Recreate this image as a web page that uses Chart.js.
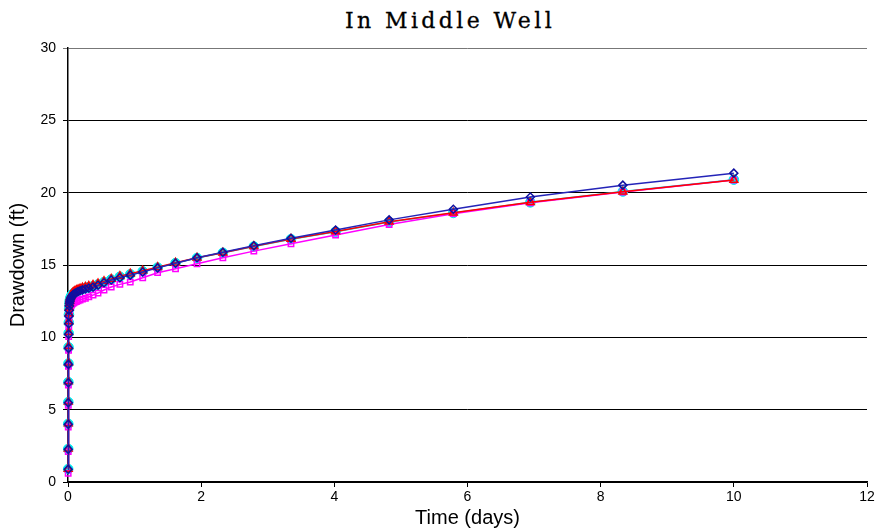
<!DOCTYPE html>
<html>
<head>
<meta charset="utf-8">
<script src="https://cdn.jsdelivr.net/npm/chart.js@4/dist/chart.umd.min.js"></script>
<style>
  html, body { margin: 0; padding: 0; background: #fff; }
  #wrap { position: relative; width: 880px; height: 531px; }
  #title {
    position: absolute; left: 0; top: 8px; width: 900px; text-align: center;
    font-family: "DejaVu Serif", "Liberation Serif", serif; font-size: 22px;
    line-height: 26px; letter-spacing: 3.4px; color: #000; -webkit-text-stroke: 0.3px #000;
  }
  canvas { position: absolute; left: 0; top: 0; }
</style>
</head>
<body>
<div id="wrap">
  <div id="title">In Middle Well</div>
  <canvas id="c" width="880" height="531"></canvas>
</div>
<script>
// Elapsed time since pumping began (days)
const timeDays = [0.0027, 0.0033, 0.0039, 0.0047, 0.0057, 0.0068, 0.0082, 0.0098, 0.0118, 0.0141,
  0.0169, 0.0203, 0.0244, 0.0293, 0.0351, 0.0421, 0.0506, 0.0607, 0.0728, 0.0874,
  0.105, 0.126, 0.151, 0.181, 0.217, 0.261, 0.313, 0.376, 0.451, 0.541,
  0.649, 0.779, 0.935, 1.122, 1.346, 1.615, 1.938, 2.326, 2.791, 3.349,
  4.019, 4.823, 5.787, 6.944, 8.333, 10];

// Drawdown (ft) for each run
const drawBlue = [0.88, 2.26, 3.99, 5.48, 6.86, 8.13, 9.24, 10.21, 10.94, 11.47,
  11.87, 12.16, 12.36, 12.5, 12.6, 12.7, 12.78, 12.85, 12.92, 12.98,
  13.04, 13.1, 13.16, 13.22, 13.28, 13.34, 13.4, 13.47, 13.6, 13.77,
  13.96, 14.12, 14.3, 14.52, 14.8, 15.12, 15.5, 15.88, 16.33, 16.85,
  17.42, 18.12, 18.85, 19.7, 20.52, 21.35];
const drawRed = [0.9, 2.3, 4.05, 5.55, 6.95, 8.25, 9.38, 10.36, 11.1, 11.65,
  12.05, 12.35, 12.55, 12.69, 12.79, 12.88, 12.95, 13.02, 13.08, 13.14,
  13.2, 13.26, 13.31, 13.36, 13.42, 13.48, 13.54, 13.61, 13.72, 13.87,
  14.04, 14.23, 14.4, 14.6, 14.85, 15.15, 15.5, 15.85, 16.3, 16.8,
  17.32, 17.99, 18.61, 19.33, 20.06, 20.87];
const drawCyan = [0.89, 2.28, 4.02, 5.52, 6.9, 8.19, 9.31, 10.29, 11.02, 11.56,
  11.96, 12.26, 12.46, 12.6, 12.7, 12.79, 12.87, 12.94, 13.0, 13.06,
  13.12, 13.18, 13.24, 13.29, 13.35, 13.41, 13.47, 13.54, 13.66, 13.82,
  14.0, 14.19, 14.36, 14.56, 14.82, 15.13, 15.48, 15.84, 16.28, 16.78,
  17.3, 17.97, 18.6, 19.33, 20.08, 20.9];
const drawMagenta = [0.6, 2.1, 3.8, 5.3, 6.7, 8.0, 9.1, 10.05, 10.75, 11.25,
  11.6, 11.85, 11.98, 12.07, 12.14, 12.2, 12.25, 12.3, 12.35, 12.39,
  12.44, 12.48, 12.53, 12.58, 12.64, 12.7, 12.8, 12.92, 13.06, 13.27,
  13.48, 13.66, 13.82, 14.12, 14.47, 14.74, 15.09, 15.5, 15.96, 16.47,
  17.07, 17.8, 18.55, 19.3, 20.05, 20.87];

// Axis ranges and tick steps
const xTicks = [0, 2, 4, 6, 8, 10, 12];
const yTicks = [0, 5, 10, 15, 20, 25, 30];

const pts = vals => timeDays.map((t, i) => ({ x: t, y: vals[i] }));

const font = 'Liberation Sans, Arial, sans-serif';

new Chart(document.getElementById('c'), {
  type: 'line',
  data: {
    datasets: [
      { data: pts(drawBlue), borderColor: '#2424b8', borderWidth: 1.5, clip: false,
        pointStyle: 'rectRot', pointRadius: 4, pointBorderColor: '#1010a0',
        pointBackgroundColor: 'rgba(0,0,0,0)', pointBorderWidth: 1.5 },
      { data: pts(drawRed), borderColor: '#ff0000', borderWidth: 1.5, clip: false,
        pointStyle: 'triangle', pointRadius: 4.5, pointBorderColor: '#ff0000',
        pointBackgroundColor: 'rgba(0,0,0,0)', pointBorderWidth: 1.5 },
      { data: pts(drawMagenta), borderColor: '#ff00ff', borderWidth: 1.5, clip: false,
        pointStyle: 'rect', pointRadius: 3.8, pointBorderColor: '#ff00ff',
        pointBackgroundColor: 'rgba(0,0,0,0)', pointBorderWidth: 1.5 },
      { data: pts(drawCyan), borderColor: '#00e0e0', borderWidth: 1.5, clip: false,
        pointStyle: 'circle', pointRadius: 4.8, pointBorderColor: '#00e8f0',
        pointBackgroundColor: '#00e8f0', pointBorderWidth: 1 }
    ]
  },
  options: {
    responsive: false,
    animation: false,
    events: [],
    layout: { padding: { top: 48, right: 13, left: 0, bottom: 0 } },
    plugins: { legend: { display: false }, tooltip: { enabled: false }, title: { display: false } },
    scales: {
      x: {
        type: 'linear', min: xTicks[0], max: xTicks[xTicks.length - 1],
        afterFit: s => { s.height = 49; },
        afterBuildTicks: s => { s.ticks = xTicks.map(v => ({ value: v })); },
        grid: { drawOnChartArea: false, drawTicks: true, tickLength: 5, color: '#000' },
        border: { color: '#000', width: 1.5 },
        ticks: { color: '#000', font: { family: font, size: 14 }, padding: 2, maxRotation: 0 },
        title: { display: true, text: 'Time (days)', color: '#000',
                 font: { family: font, size: 20 }, padding: { top: 0, bottom: 1 } }
      },
      y: {
        type: 'linear', min: yTicks[0], max: yTicks[yTicks.length - 1],
        afterFit: s => { s.width = 68; },
        afterBuildTicks: s => { s.ticks = yTicks.map(v => ({ value: v })); },
        grid: { drawOnChartArea: true, drawTicks: true, tickLength: 5,
                color: ctx => ctx.tick && ctx.tick.value === 30 ? '#777' : '#000', lineWidth: 1 },
        border: { color: '#000', width: 1.5 },
        ticks: { color: '#000', font: { family: font, size: 14 }, padding: 7 },
        title: { display: true, text: 'Drawdown (ft)', color: '#000',
                 font: { family: font, size: 20 }, padding: { top: 6, bottom: 0 } }
      }
    }
  }
});
</script>
</body>
</html>
